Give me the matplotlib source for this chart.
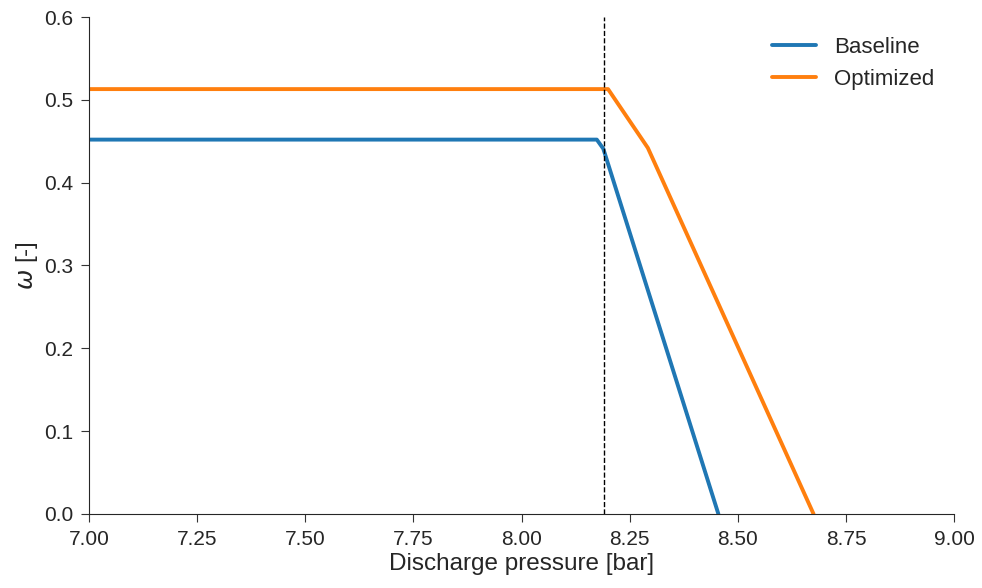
import matplotlib
matplotlib.use("Agg")
import matplotlib.pyplot as plt
import seaborn as sns

# omega vs discharge pressure for the two designs
p_base = [7.0, 8.174, 8.189, 8.455]
w_base = [0.452, 0.452, 0.441, 0.0]
p_opt = [7.0, 8.200, 8.292, 8.675]
w_opt = [0.513, 0.513, 0.442, 0.0]
p_limit = 8.19

sns.set_style("ticks")
plt.rcParams['font.family'] = ['Liberation Sans', 'DejaVu Sans']

fig = plt.figure(figsize=(9.82, 5.88), dpi=100)
ax = fig.add_axes([0.0906, 0.126, 0.881, 0.845])

ax.plot(p_base, w_base, color="#1f77b4", lw=2.8, label="Baseline")
ax.plot(p_opt, w_opt, color="#ff7f0e", lw=2.8, label="Optimized")
ax.axvline(p_limit, color="black", ls="--", lw=1.0)

ax.set_xlim(7.0, 9.0)
ax.set_ylim(0.0, 0.6)
ax.set_xticks([7.0, 7.25, 7.5, 7.75, 8.0, 8.25, 8.5, 8.75, 9.0])
ax.set_xticklabels(["7.00", "7.25", "7.50", "7.75", "8.00", "8.25", "8.50", "8.75", "9.00"])
ax.set_yticks([0.0, 0.1, 0.2, 0.3, 0.4, 0.5, 0.6])
ax.set_yticklabels(["0.0", "0.1", "0.2", "0.3", "0.4", "0.5", "0.6"])
ax.tick_params(labelsize=15, length=5.5, color="#333333", labelcolor="#262626")
ax.tick_params(axis="x", pad=6)
ax.tick_params(axis="y", pad=6)
ax.set_xlabel("Discharge pressure [bar]", fontsize=17.5, color="#262626", labelpad=3)
ax.set_ylabel(r"$\omega$ [-]", fontsize=17.5, color="#262626", labelpad=3)
for s in ["left", "bottom"]:
    ax.spines[s].set_color("#262626")
sns.despine(ax=ax)

ax.legend(loc="upper right", frameon=False, fontsize=16)

fig.savefig("out.png", dpi=100)
